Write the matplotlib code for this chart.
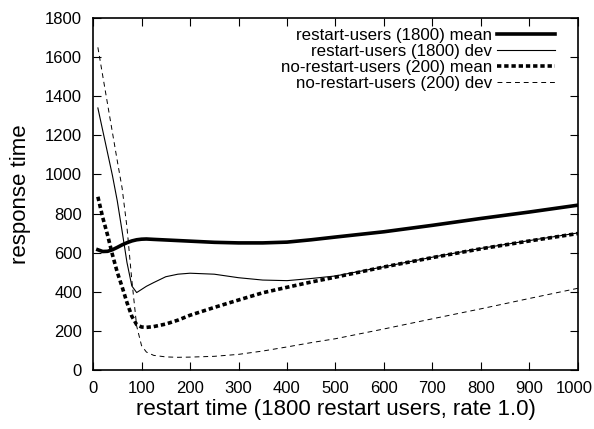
import numpy as np
import matplotlib
matplotlib.use("Agg")
import matplotlib.pyplot as plt
import matplotlib.transforms as mtransforms

plt.rcParams['font.family'] = ['Liberation Sans', 'DejaVu Sans']

# restart time
t = [10, 20, 30, 40, 50, 60, 70, 80, 90, 100, 110, 125, 150, 175, 200,
     250, 300, 350, 400, 450, 500, 600, 700, 800, 900, 1000]

restart_mean = [615, 606, 607, 615, 627, 640, 651, 660, 666, 669, 670, 668, 665, 662, 659,
                653, 650, 650, 654, 666, 680, 707, 740, 775, 808, 843]
restart_dev = [1340, 1225, 1110, 995, 865, 710, 550, 430, 396, 412, 428, 447, 477, 490, 495,
               490, 472, 460, 457, 468, 481, 528, 577, 622, 662, 701]
norestart_mean = [886, 780, 690, 590, 500, 425, 345, 275, 232, 220, 218, 222, 235, 255, 280,
                  320, 358, 395, 423, 450, 475, 527, 575, 620, 660, 698]
norestart_dev = [1650, 1505, 1360, 1215, 1070, 930, 730, 460, 225, 125, 92, 75, 67, 65, 66,
                 70, 80, 97, 118, 140, 160, 210, 262, 313, 366, 418]

labels = ["restart-users (1800) mean", "restart-users (1800) dev",
          "no-restart-users (200) mean", "no-restart-users (200) dev"]

fig = plt.figure(figsize=(5.94, 4.29), dpi=100)
ax = fig.add_axes([0.1566, 0.1375, 0.8164, 0.8205])

ax.plot(t, restart_mean, color='black', lw=2.6, label=labels[0])
ax.plot(t, restart_dev, color='black', lw=0.8, label=labels[1])
ax.plot(t, norestart_mean, color='black', lw=2.6, dashes=(1.2, 0.8), label=labels[2])
ax.plot(t, norestart_dev, color='black', lw=0.7, dashes=(5, 4), label=labels[3])

ax.set_xlim(0, 1000)
ax.set_ylim(0, 1800)
ax.set_xticks(np.arange(0, 1001, 100))
ax.set_yticks(np.arange(0, 1801, 200))
ax.tick_params(direction='in', top=True, right=True, labelsize=12, length=6, width=0.8)
ax.tick_params(axis='x', pad=8)
ax.tick_params(axis='y', pad=8)
for s in ax.spines.values():
    s.set_linewidth(1.2)

# keep last x label inside the picture, as in the original
last = ax.get_xticklabels()[-1]
last.set_transform(last.get_transform() +
                   mtransforms.ScaledTranslation(-4 / 100, 0, fig.dpi_scale_trans))

ax.set_xlabel("restart time (1800 restart users, rate 1.0)", fontsize=16, labelpad=2)
ax.set_ylabel("response time", fontsize=16, labelpad=10)

ax.legend(loc='upper right', bbox_to_anchor=(0.9526, 0.972), frameon=False,
          markerfirst=False, fontsize=12.2, handlelength=3.4, labelspacing=0.065,
          handletextpad=0.3, borderaxespad=0, borderpad=0)

fig.savefig("out.png", dpi=100)
